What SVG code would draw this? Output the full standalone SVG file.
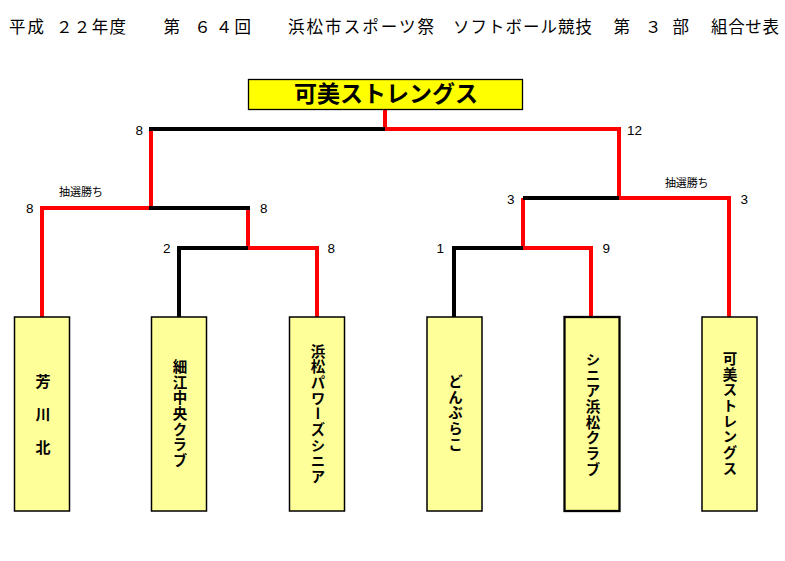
<svg xmlns="http://www.w3.org/2000/svg" width="785" height="561" viewBox="0 0 785 561">
<defs>
<style>
.title{font-family:"Noto Sans CJK JP","Noto Sans CJK SC",sans-serif;font-size:16.5px;fill:#000}
.score{font-family:"Liberation Sans",Arial,sans-serif;font-size:13.5px;fill:#000}
.note{font-family:"Noto Sans CJK JP",sans-serif;font-size:11px;fill:#000}
.box{fill:#FFFF99;stroke:#000;stroke-width:1.5}
.vt{font-family:"Noto Sans CJK JP",sans-serif;font-size:14.5px;font-weight:bold;fill:#000;writing-mode:vertical-rl;text-anchor:middle;letter-spacing:1.2px}
.ht{font-family:"Noto Sans CJK JP",sans-serif;font-size:15px;font-weight:bold;fill:#000;text-anchor:middle}
.red{fill:none;stroke:#FF0000;stroke-width:4;stroke-linejoin:miter}
.blk{fill:none;stroke:#000;stroke-width:4;stroke-linejoin:miter;stroke-linecap:square}
</style>
</defs>
<rect width="785" height="561" fill="#fff"/>
<g id="title">
<text class="title" x="9" y="33" textLength="35" lengthAdjust="spacing">平成</text>
<text class="title" x="56" y="33" textLength="70" lengthAdjust="spacing">２２年度</text>
<text class="title" x="163.4 194.3 215.8 234.4" y="33">第６４回</text>
<text class="title" x="288" y="33" textLength="146" lengthAdjust="spacing">浜松市スポーツ祭</text>
<text class="title" x="453" y="33" textLength="139" lengthAdjust="spacing">ソフトボール競技</text>
<text class="title" x="613.4 645 672.5" y="33">第３部</text>
<text class="title" x="711" y="33" textLength="68" lengthAdjust="spacing">組合せ表</text>
</g>
<g id="connectors">
<path class="red" d="M729,317 V198 H619 V129 H385 V109"/>
<path class="red" d="M42,317 V208 H151 V129"/>
<path class="red" d="M317,317 V248 H248 V208"/>
<path class="red" d="M591,317 V248 H523 V198"/>
<path class="blk" d="M151,129 H383"/>
<path class="blk" d="M151,208 H248"/>
<path class="blk" d="M179,315 V248 H246"/>
<path class="blk" d="M525,198 H617"/>
<path class="blk" d="M454,315 V248 H521"/>
</g>
<g id="scores">
<text class="score" x="135.5" y="135">8</text>
<text class="score" x="627" y="135">12</text>
<text class="score" x="26" y="213">8</text>
<text class="score" x="260" y="213">8</text>
<text class="score" x="163" y="253">2</text>
<text class="score" x="327.5" y="253">8</text>
<text class="score" x="507" y="203.5">3</text>
<text class="score" x="740.5" y="203.5">3</text>
<text class="score" x="436.5" y="253">1</text>
<text class="score" x="602.5" y="253">9</text>
<text class="note" x="59" y="196" textLength="44" lengthAdjust="spacing">抽選勝ち</text>
<text class="note" x="665" y="186.5" textLength="43.5" lengthAdjust="spacing">抽選勝ち</text>
</g>
<g id="winner">
<rect x="248.5" y="79.5" width="274" height="30" fill="#FFFF00" stroke="#000" stroke-width="1.3"/>
<text x="386" y="102" font-family="Noto Sans CJK JP, sans-serif" font-size="23" font-weight="bold" text-anchor="middle">可美ストレングス</text>
</g>
<g id="team1">
<rect class="box" x="14.5" y="317" width="55" height="194"/>
<text class="ht" x="43" y="387">芳</text>
<text class="ht" x="43" y="420">川</text>
<text class="ht" x="43" y="453">北</text>
</g>
<g id="team2">
<rect class="box" x="151.5" y="317" width="55" height="194"/>
<text class="vt" x="180" y="414">細江中央クラブ</text>
</g>
<g id="team3">
<rect class="box" x="289.5" y="317" width="55" height="194"/>
<text class="vt" x="318" y="414.5">浜松パワーズシニア</text>
</g>
<g id="team4">
<rect class="box" x="427" y="317" width="55" height="194"/>
<text class="vt" x="455.5" y="413.5">どんぶらこ</text>
</g>
<g id="team5">
<rect class="box" x="564.5" y="317" width="55" height="194" style="stroke-width:2.3"/>
<text class="vt" x="593" y="415">シニア浜松クラブ</text>
</g>
<g id="team6">
<rect class="box" x="702" y="317" width="55" height="194"/>
<text class="vt" x="730" y="414">可美ストレングス</text>
</g>
</svg>
